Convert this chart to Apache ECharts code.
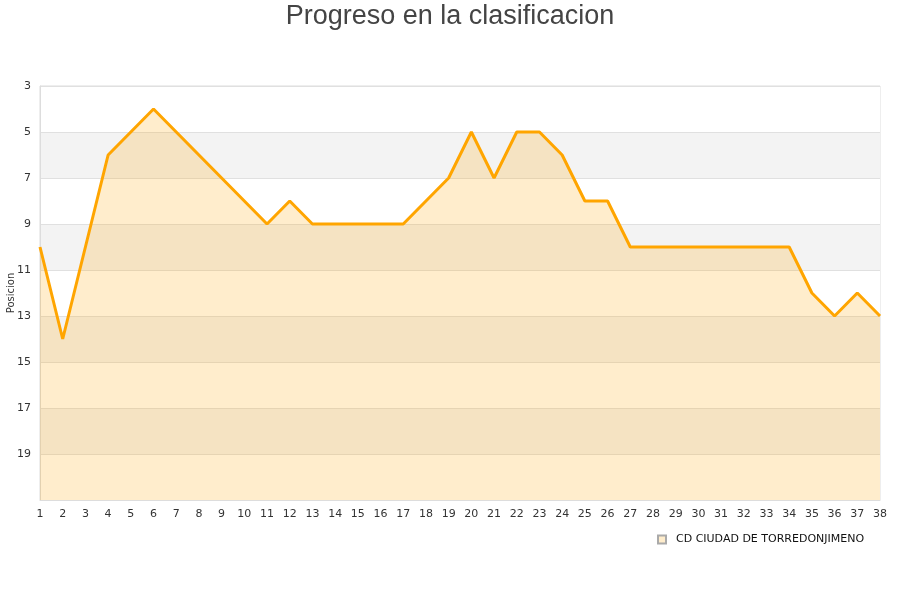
<!DOCTYPE html>
<html><head><meta charset="utf-8">
<script src="https://cdn.jsdelivr.net/npm/echarts@6/dist/echarts.min.js"></script>
<style>html,body{margin:0;padding:0;background:#fff}#c{width:900px;height:600px}</style>
</head><body><div id="c"></div>
<script>
var jornadas = [];
for (var i = 1; i <= 38; i++) jornadas.push(String(i));
var posiciones = [10,14,10,6,5,4,5,6,7,8,9,8,9,9,9,9,9,8,7,5,7,5,5,6,8,8,10,10,10,10,10,10,10,10,12,13,12,13];
var equipo = 'CD CIUDAD DE TORREDONJIMENO';
var titulo = 'Progreso en la clasificacion';
var ejeY = 'Posicion';

var chart = echarts.init(document.getElementById('c'));
chart.setOption({
  animation: false,
  title: {
    text: titulo, left: 'center', top: -2,
    textStyle: {fontFamily: 'Liberation Sans', fontSize: 27, fontWeight: 'normal', color: '#444'}
  },
  legend: {
    data: [{name: equipo, icon: 'rect'}],
    left: 652, top: 529, itemWidth: 8, itemHeight: 8,
    textStyle: {fontFamily: 'DejaVu Sans', fontSize: 11, color: '#111', padding: [0, 0, 0, 5]}
  },
  grid: {left: 40, right: 20, top: 86, bottom: 100, show: true, borderColor: '#ddd', borderWidth: 1,
    containLabel: false, outerBoundsMode: 'none'},
  xAxis: {
    type: 'category', data: jornadas, boundaryGap: false,
    axisLine: {show: true, lineStyle: {color: '#ddd'}},
    axisTick: {show: false},
    axisLabel: {interval: 0, fontFamily: 'DejaVu Sans', fontSize: 11, color: '#333', margin: 9},
    splitLine: {show: false}
  },
  yAxis: {
    type: 'value', inverse: true, min: 3, max: 21, interval: 2,
    name: ejeY, nameLocation: 'middle', nameGap: 24, nameMoveOverlap: false,
    nameTextStyle: {fontFamily: 'DejaVu Sans', fontSize: 10, color: '#333'},
    axisLine: {show: true, lineStyle: {color: '#ddd'}},
    axisTick: {show: false},
    axisLabel: {fontFamily: 'DejaVu Sans', fontSize: 11, color: '#333', margin: 9, padding: [4, 0, 0, 0],
      formatter: function (v) { return v === 21 ? '' : String(v); }},
    splitLine: {show: true, lineStyle: {color: '#e0e0e0'}},
    splitArea: {show: true, areaStyle: {color: ['#ffffff', '#f3f3f3']}}
  },
  series: [{
    name: equipo, type: 'line', data: posiciones,
    symbol: 'none', showSymbol: false,
    lineStyle: {color: '#ffa500', width: 3},
    itemStyle: {color: 'rgba(255,165,0,0.2)', borderColor: '#aaa', borderWidth: 1},
    areaStyle: {color: 'rgba(255,165,0,0.2)', opacity: 1, origin: 'end'}
  }]
});
</script></body></html>
